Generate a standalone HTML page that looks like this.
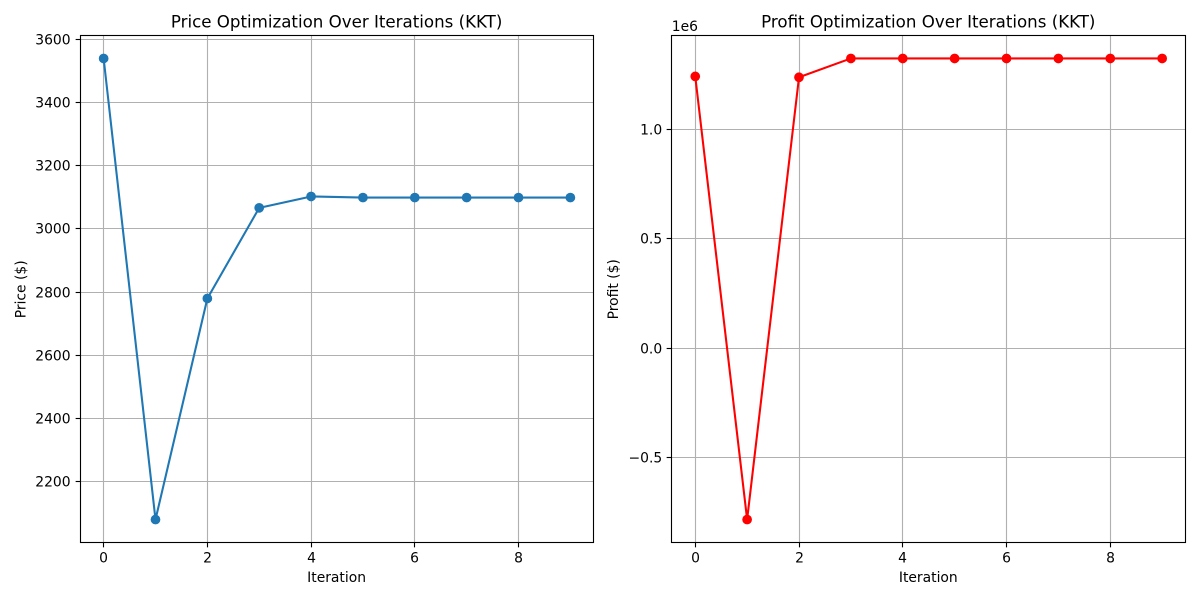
<!DOCTYPE html>
<html lang="en">
<head>
<meta charset="utf-8">
<title>Price and Profit Optimization Over Iterations (KKT)</title>
<style>
html,body{margin:0;padding:0;background:#fff;width:1200px;height:600px;overflow:hidden}
svg{display:block}
text{font-family:"DejaVu Sans",sans-serif;fill:#000}
</style>
</head>
<body>
<svg id="figure" xmlns="http://www.w3.org/2000/svg" width="1200" height="600" viewBox="0 0 1200 600">
<rect x="0" y="0" width="1200" height="600" fill="#fff"/>
<g id="price-chart"></g>
<g id="profit-chart"></g>
</svg>
<script>
const iterations = [0, 1, 2, 3, 4, 5, 6, 7, 8, 9];
const xTickValues = [0, 2, 4, 6, 8];
const priceValues = [3540, 2080, 2780, 3067, 3103, 3099.5, 3099.5, 3099.5, 3099.5, 3099.5];
const priceTickValues = [2200, 2400, 2600, 2800, 3000, 3200, 3400, 3600];
const priceTickLabels = ['2200', '2400', '2600', '2800', '3000', '3200', '3400', '3600'];
const profitValues = [1.243, -0.784, 1.239, 1.325, 1.325, 1.325, 1.325, 1.325, 1.325, 1.325];
const profitTickValues = [-0.5, 0, 0.5, 1];
const profitTickLabels = ['\u22120.5', '0.0', '0.5', '1.0'];

const NS = 'http://www.w3.org/2000/svg';
function make(parent, tag, attrs, text) {
  const el = document.createElementNS(NS, tag);
  for (const k in attrs) el.setAttribute(k, attrs[k]);
  if (text !== undefined) el.textContent = text;
  parent.appendChild(el);
  return el;
}
function snap(v) {
  return Math.floor(v) + 0.5;
}

function drawChart(cfg) {
  const g = document.getElementById(cfg.id);
  const L = cfg.left, R = cfg.right, T = 35.4, B = 542.6;
  const vals = cfg.values;
  const xMin = Math.min(...iterations), xMax = Math.max(...iterations);
  const yMin = Math.min(...vals), yMax = Math.max(...vals);
  const yPad = (yMax - yMin) * 0.05;
  const xPad = (xMax - xMin) * 0.05;
  const sx = v => L + (v - (xMin - xPad)) / ((xMax - xMin) + 2 * xPad) * (R - L);
  const sy = v => B - (v - (yMin - yPad)) / ((yMax - yMin) + 2 * yPad) * (B - T);
  const fL = snap(L), fR = snap(R), fT = snap(T), fB = snap(B);

  xTickValues.forEach(v => {
    const x = snap(sx(v));
    const grid = make(g, 'line', {x1: x, x2: x, y1: fT, y2: fB, stroke: '#b0b0b0', 'stroke-width': 1.11});
    
    
    const tick = make(g, 'line', {x1: x, x2: x, y1: fB, y2: fB + 4.86, stroke: '#000', 'stroke-width': 1.11});
    
    
    const label = make(g, 'text', {x: x, y: 562.6, 'text-anchor': 'middle', 'font-size': 13.89}, String(v));
    
    
  });

  cfg.ticks.forEach((v, i) => {
    const y = snap(sy(v));
    const grid = make(g, 'line', {x1: fL, x2: fR, y1: y, y2: y, stroke: '#b0b0b0', 'stroke-width': 1.11});
    
    
    const tick = make(g, 'line', {x1: fL - 4.86, x2: fL, y1: y, y2: y, stroke: '#000', 'stroke-width': 1.11});
    
    
    const label = make(g, 'text', {x: L - 9.7, y: y + 5.2, 'text-anchor': 'end', 'font-size': 13.89}, cfg.tickLabels[i]);
    
    
  });

  const pts = vals.map((v, i) => sx(iterations[i]) + ',' + sy(v)).join(' ');
  const line = make(g, 'polyline', {points: pts, fill: 'none', stroke: cfg.color, 'stroke-width': 2.08, 'stroke-linejoin': 'round', 'stroke-linecap': 'square'});
  
  

  vals.forEach((v, i) => {
    const c = make(g, 'circle', {cx: sx(iterations[i]), cy: sy(v), r: 4.86, fill: cfg.color});
    
    
  });

  const frame = make(g, 'rect', {x: fL, y: fT, width: fR - fL, height: fB - fT, fill: 'none', stroke: '#000', 'stroke-width': 1.11});
  
  

  const title = make(g, 'text', {x: (L + R) / 2 - 0.4, y: 27.3, 'text-anchor': 'middle', 'font-size': 16.67}, cfg.title);
  
  

  const xTitle = make(g, 'text', {x: (L + R) / 2 - 0.4, y: 582, 'text-anchor': 'middle', 'font-size': 13.89}, 'Iteration');
  
  

  const cy = 289.3;
  const yTitle = make(g, 'text', {x: cfg.yTitleX, y: cy, 'text-anchor': 'middle', 'font-size': 13.89, transform: 'rotate(-90 ' + cfg.yTitleX + ' ' + cy + ')'}, cfg.yTitle);
  
  

  if (cfg.offset) {
    const off = make(g, 'text', {x: fL + 0.3, y: 31, 'font-size': 13.89}, cfg.offset);
    
    
  }
}

drawChart({
  id: 'price-chart', prefix: 'price', left: 80.3, right: 593.7, color: '#1f77b4',
  values: priceValues, ticks: priceTickValues, tickLabels: priceTickLabels,
  title: 'Price Optimization Over Iterations (KKT)', yTitle: 'Price ($)', yTitleX: 25.3
});
drawChart({
  id: 'profit-chart', prefix: 'profit', left: 671.9, right: 1185.5, color: '#ff0000',
  values: profitValues, ticks: profitTickValues, tickLabels: profitTickLabels,
  title: 'Profit Optimization Over Iterations (KKT)', yTitle: 'Profit ($)', yTitleX: 617.9, offset: '1e6'
});
</script>
</body>
</html>
